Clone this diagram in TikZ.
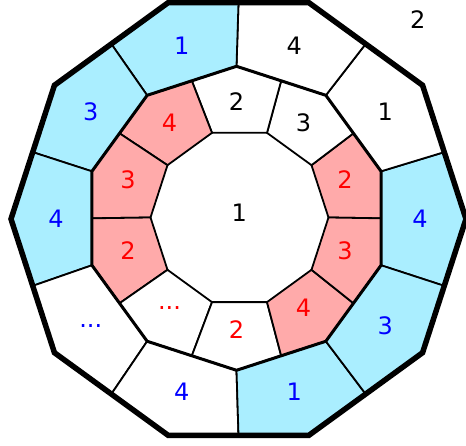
\documentclass[tikz,border=0pt]{standalone}
\usepackage{fontspec}
\setmainfont{DejaVu Sans}
\definecolor{cellblue}{HTML}{AAEEFF}
\definecolor{cellpink}{HTML}{FFAAAA}
\definecolor{labblue}{HTML}{0000FF}
\definecolor{labred}{HTML}{FF0000}
\newcommand{\etcdots}{...}
\tikzset{
  cell/.style={draw=black, line width=1.8pt, line join=miter},
  lab/.style={font=\fontsize{24}{28}\selectfont, inner sep=0pt},
}

\begin{document}
\begin{tikzpicture}[x=1pt, y=1pt, line join=miter]
        \useasboundingbox (0,0) rectangle (466,446);

        % Corners of the three rings
        \begin{scope}[shift={(238.5,227)}]
            \foreach \k in {0,...,9} {
                \coordinate (o\k) at ({36*\k}:227.5);
                \coordinate (om\k) at ({36*\k+18}:{227.5*cos(18)});
            }
        \end{scope}
        \begin{scope}[shift={(236.5,227.7)}]
            \foreach \k in {0,...,9} {
                \coordinate (m\k) at ({36*\k+18}:152);
                \coordinate (mm\k) at ({36*\k}:{152*cos(18)});
            }
        \end{scope}
        \begin{scope}[shift={(239.5,228.5)}]
            \foreach \k in {0,...,9}
                \coordinate (i\k) at ({36*\k}:89);
        \end{scope}

        % Middle ring
        \foreach \k/\cellc/\labc/\lab in {0/cellpink/labred/2, 1/white/black/3, 2/white/black/2,
                3/cellpink/labred/4, 4/cellpink/labred/3, 5/cellpink/labred/2, 6/white/labred/\etcdots,
                7/white/labred/2, 8/cellpink/labred/4, 9/cellpink/labred/3} {
            \pgfmathtruncatemacro\n{mod(\k+1,10)}
            \filldraw[cell, fill=\cellc] (i\k) -- (mm\k) -- (m\k) -- (mm\n) -- (i\n) -- cycle;
            \node[lab, text=\labc] (mid\k) at ([shift={(236.5,230.7)}]{36*\k+18}:114) {\lab};
        }

        % Outer ring
        \foreach \k/\cellc/\labc/\lab in {0/cellblue/labblue/4, 1/white/black/1, 2/white/black/4,
                3/cellblue/labblue/1, 4/cellblue/labblue/3, 5/cellblue/labblue/4, 6/white/labblue/\etcdots,
                7/white/labblue/4, 8/cellblue/labblue/1, 9/cellblue/labblue/3} {
            \pgfmathtruncatemacro\p{mod(\k+9,10)}
            \filldraw[cell, fill=\cellc] (m\p) -- (om\p) -- (o\k) -- (om\k) -- (m\k) -- cycle;
            \node[lab, text=\labc] (out\k) at ([shift={(238,227)}]{36*\k}:182) {\lab};
        }

        % Ring borders
        \draw[line width=3pt] (m0) -- (m1) -- (m2) -- (m3) -- (m4) -- (m5) -- (m6) -- (m7) -- (m8) -- (m9) -- cycle;
        \draw[line width=5.5pt] (o0) -- (o1) -- (o2) -- (o3) -- (o4) -- (o5) -- (o6) -- (o7) -- (o8) -- (o9) -- cycle;

        % Centre and loose label
        \node[lab] (core) at (239.3,233.2) {1};
        \node[lab] (extra) at (417.8,426.8) {2};
    \end{tikzpicture}
\end{document}
